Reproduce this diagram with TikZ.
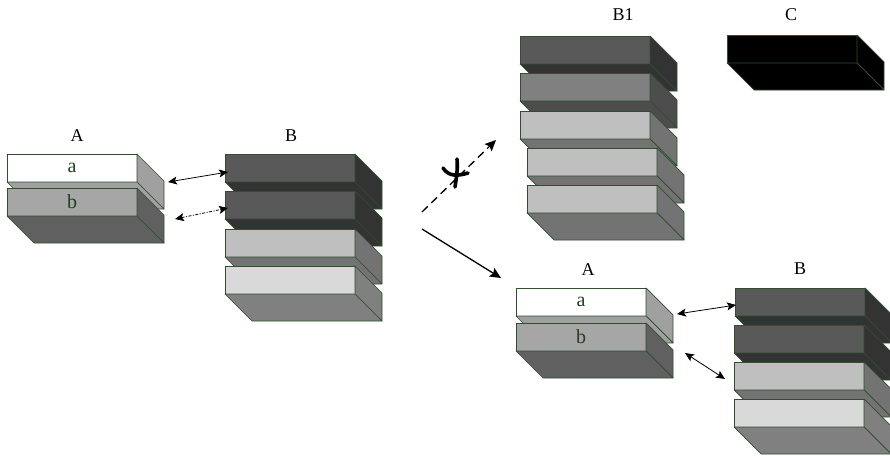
\documentclass[tikz,border=0pt]{standalone}
\usepackage{fontspec}
\setmainfont{Liberation Serif}
\usepackage{tikz}
\usetikzlibrary{arrows.meta}
\usetikzlibrary{calc}

\definecolor{edgegreen}{HTML}{2F4F2F}
\definecolor{textgreen}{HTML}{1F3F1F}
\definecolor{grayA}{HTML}{A0A0A0}
\definecolor{grayB}{HTML}{A6A6A6}
\definecolor{grayC}{HTML}{606060}
\definecolor{darkfront}{HTML}{595959}
\definecolor{darkside}{HTML}{333333}
\definecolor{midfront}{HTML}{808080}
\definecolor{midside}{HTML}{4D4D4D}
\definecolor{lightfront}{HTML}{BFBFBF}
\definecolor{lightside}{HTML}{737373}
\definecolor{palefront}{HTML}{D9D9D9}
\definecolor{paleside}{HTML}{808080}

\tikzset{
  slab/.style={draw=edgegreen, line width=0.7pt, anchor=north west,
    minimum width=130pt, minimum height=28pt, inner sep=0pt, outer sep=0pt,
    text=textgreen, font=\fontsize{20}{20}\selectfont},
  face/.style={draw=edgegreen, line width=0.7pt, line join=round},
  title/.style={font=\fontsize{18}{18}\selectfont},
  link/.style={line width=0.8pt, {Stealth[length=9pt,width=8pt,inset=2pt]}-{Stealth[length=9pt,width=8pt,inset=2pt]}},
  move/.style={line width=1.3pt, -{Stealth[length=11pt,width=10pt,inset=2pt]}}
}

% name, x, y, front colour, side colour, text
\newcommand{\Slab}[6]{%
  \node (#1) [slab, fill=#4] at (#2,#3) {#6};
  \filldraw[face, fill=#5] (#1.north east) -- ++(27,27)
    -- ($(#1.south east)+(27,27)$) -- (#1.south east) -- cycle;
  \filldraw[face, fill=#5] (#1.south west) -- (#1.south east)
    -- ++(27,27) -- ($(#1.south west)+(27,27)$) -- cycle;
}

\begin{document}
\begin{tikzpicture}[x=1pt, y=-1pt]
    \useasboundingbox (0,0) rectangle (890,455);
    \clip (0,0) rectangle (890,455);

    % left A
    \node (la title) [title] at (77,136) {A};
    \Slab{la}{7}{154}{white}{grayA}{a}
    \Slab{lb}{7}{188}{grayB}{grayC}{b}

    % left B
    \node (lB title) [title] at (291,136) {B};
    \Slab{lB1}{225}{154}{darkfront}{darkside}{}
    \Slab{lB2}{225}{191}{darkfront}{darkside}{}
    \Slab{lB3}{225}{229}{lightfront}{lightside}{}
    \Slab{lB4}{225}{266}{palefront}{paleside}{}

    % B1
    \node (b1 title) [title] at (623,15) {B1};
    \Slab{b11}{520}{36}{darkfront}{darkside}{}
    \Slab{b12}{520}{73}{midfront}{midside}{}
    \Slab{b13}{520}{111}{lightfront}{lightside}{}
    \Slab{b14}{527}{148}{lightfront}{lightside}{}
    \Slab{b15}{527}{185}{lightfront}{lightside}{}

    % C
    \node (c title) [title] at (791,15) {C};
    \Slab{c1}{727}{35}{black}{black}{}

    % right A
    \node (ra title) [title] at (588,270) {A};
    \Slab{ra}{516}{288}{white}{grayA}{a}
    \Slab{rb}{516}{323}{grayB}{grayC}{b}

    % right B
    \node (rB title) [title] at (800,269) {B};
    \Slab{rB1}{735}{288}{darkfront}{darkside}{}
    \Slab{rB2}{734}{325}{darkfront}{darkside}{}
    \Slab{rB3}{734}{362}{lightfront}{lightside}{}
    \Slab{rB4}{734}{399}{palefront}{paleside}{}

    % links between A and B
    \draw[link] ($(la.north east)+(31,28)$) -- ($(lB1.west)+(3,4)$);
    \draw[link, dash pattern=on 3pt off 1.5pt on 1pt off 1.5pt]
      ($(lb.north east)+(38,31)$) -- ($(lB2.west)+(3,3)$);
    \draw[link] ($(ra.north east)+(31,26)$) -- ($(rB1.west)+(1,3)$);
    \draw[link] ($(rb.north east)+(39,30)$) -- ($(rB3.west)+(-9,3)$);

    % the two outcomes
    \draw[move, dash pattern=on 8pt off 5pt]
      ($(lB2.east)+(67,7)$) -- ($(b14.west)+(-31,-22)$);
    \draw[move] ($(lB3.east)+(67,-14)$) -- ($(ra.west)+(-15,-24)$);

    % cross on the dashed move
    \draw[line width=3.6pt, line cap=round]
      (443,168) .. controls (449,177) and (458,176) .. (468,173);
    \draw[line width=3.6pt, line cap=round]
      (457,159) .. controls (458,170) and (456,180) .. (455,187);
\end{tikzpicture}
\end{document}
